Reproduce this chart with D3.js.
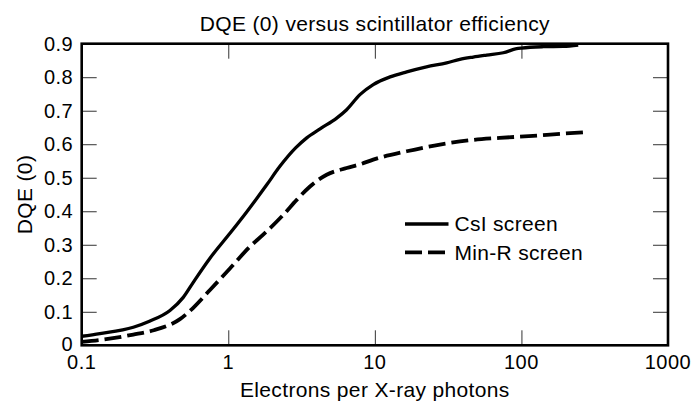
<!DOCTYPE html>
<head>
  <meta charset="utf-8">
  <script src="https://d3js.org/d3.v7.min.js"></script>
  <style>
    body { margin: 0; background: #fff; }
    svg { width: 695px; height: 401px; display: block; }
    text { font-family: Arial, "Liberation Sans", Helvetica, sans-serif; fill: #000; }
  </style>
</head>

<body>
  <svg></svg>
  <script>
    // CsI screen (solid)
    var csiX = [0.1, 0.133, 0.225, 0.29, 0.40, 0.493, 0.577, 0.75, 1.03, 1.335, 1.83, 2.25, 2.88, 3.43,
      4.23, 5.49, 6.42, 7.91, 9.75, 12.7, 16.5, 22.5, 30.9, 38, 46.9, 57.9, 75.2, 92.7, 100, 141, 193, 244];
    var csiY = [0.027, 0.035, 0.054, 0.072, 0.104, 0.143, 0.188, 0.26, 0.335, 0.398, 0.479, 0.534, 0.589, 0.619,
      0.646, 0.678, 0.703, 0.748, 0.778, 0.801, 0.816, 0.831, 0.843, 0.853, 0.860, 0.866, 0.873, 0.885, 0.887, 0.891, 0.892, 0.896];
    // Min-R screen (dashed)
    var minrX = [0.1, 0.133, 0.225, 0.31, 0.468, 0.577, 0.75, 1.03, 1.41, 1.73, 2.37, 2.93, 3.61, 4.69,
      6.42, 7.91, 9.75, 16.5, 27.8, 46.9, 71, 120, 183, 276];
    var minrY = [0.010, 0.016, 0.032, 0.045, 0.078, 0.112, 0.165, 0.23, 0.295, 0.33, 0.389, 0.434, 0.474, 0.509,
      0.529, 0.540, 0.554, 0.579, 0.599, 0.613, 0.619, 0.625, 0.631, 0.636];

    var seriesNames = ['CsI screen', 'Min-R screen'];
    var xTicks = [0.1, 1, 10, 100, 1000];
    var xTickLabels = ['0.1', '1', '10', '100', '1000'];
    var yTicks = [0, 0.1, 0.2, 0.3, 0.4, 0.5, 0.6, 0.7, 0.8, 0.9];
    var yTickLabels = ['0', '0.1', '0.2', '0.3', '0.4', '0.5', '0.6', '0.7', '0.8', '0.9'];

    var W = 695, H = 401;
    var m = {top: 43.7, right: 27, bottom: 55.7, left: 81.7};
    var iw = W - m.left - m.right, ih = H - m.top - m.bottom;

    var svg = d3.select('svg');
    var g = svg.append('g').attr('transform', 'translate(' + [m.left, m.top] + ')');

    var x = d3.scaleLog().domain([0.1, 1000]).range([0, iw]);
    var y = d3.scaleLinear().domain([0, 0.9]).range([ih, 0]);

    // inner ticks on all four sides
    var tickLen = 15;
    var innerX = xTicks.slice(1, -1), innerY = yTicks.slice(1, -1);
    function tickStyle(sel) {
      sel.selectAll('.domain').remove();
      sel.selectAll('.tick line').attr('stroke', '#333').attr('stroke-width', 1);
      sel.selectAll('.tick text').remove();
    }
    g.append('g').attr('transform', 'translate(0,' + ih + ')')
      .call(d3.axisTop(x).tickValues(innerX).tickSizeInner(tickLen).tickSizeOuter(0)).call(tickStyle);
    g.append('g')
      .call(d3.axisBottom(x).tickValues(innerX).tickSizeInner(tickLen).tickSizeOuter(0)).call(tickStyle);
    g.append('g')
      .call(d3.axisRight(y).tickValues(innerY).tickSizeInner(tickLen).tickSizeOuter(0)).call(tickStyle);
    g.append('g').attr('transform', 'translate(' + iw + ',0)')
      .call(d3.axisLeft(y).tickValues(innerY).tickSizeInner(tickLen).tickSizeOuter(0)).call(tickStyle);

    // tick labels
    g.selectAll('text.xt').data(xTicks).enter().append('text')
      .attr('class', 'xt')
      .attr('x', function(d) { return x(d); })
      .attr('y', ih + 24)
      .attr('text-anchor', 'middle')
      .style('font-size', '20px').style('letter-spacing', '0.5px')
      .text(function(d, i) { return xTickLabels[i]; });
    g.selectAll('text.yt').data(yTicks).enter().append('text')
      .attr('class', 'yt')
      .attr('x', -8.5)
      .attr('y', function(d) { return y(d) + (d === 0 ? 6 : 7); })
      .attr('text-anchor', 'end')
      .style('font-size', '20px').style('letter-spacing', '0.5px')
      .text(function(d, i) { return yTickLabels[i]; });

    // curves
    var line = d3.line()
      .x(function(d) { return x(d[0]); })
      .y(function(d) { return y(d[1]); })
      .curve(d3.curveMonotoneX);
    var csi = d3.zip(csiX, csiY), minr = d3.zip(minrX, minrY);

    g.append('path').datum(csi)
      .attr('d', line).attr('fill', 'none')
      .attr('stroke', '#000').attr('stroke-width', 3.3);
    g.append('path').datum(minr)
      .attr('d', line).attr('fill', 'none')
      .attr('stroke', '#000').attr('stroke-width', 3.8)
      .attr('stroke-dasharray', '17,6');

    // frame
    g.append('rect').attr('width', iw).attr('height', ih)
      .attr('fill', 'none').attr('stroke', '#000').attr('stroke-width', 2.6);

    // legend
    var leg = g.selectAll('g.leg').data(seriesNames).enter().append('g')
      .attr('class', 'leg')
      .attr('transform', function(d, i) { return 'translate(' + [405 - m.left, 224 - m.top + i * 28.3] + ')'; });
    leg.append('line').attr('x1', 0).attr('x2', 43.5)
      .attr('stroke', '#000')
      .attr('stroke-width', function(d, i) { return i ? 3.8 : 3.3; })
      .attr('stroke-dasharray', function(d, i) { return i ? '17,6' : null; });
    leg.append('text').attr('x', 49.5).attr('y', 7.3)
      .style('font-size', '21px').style('letter-spacing', '0.3px')
      .text(function(d) { return d; });

    // titles
    svg.append('text').attr('x', m.left + iw / 2).attr('y', 30.7)
      .attr('text-anchor', 'middle')
      .style('font-size', '21px').style('letter-spacing', '0.35px')
      .text('DQE (0) versus scintillator efficiency');
    svg.append('text').attr('x', m.left + iw / 2).attr('y', 397)
      .attr('text-anchor', 'middle')
      .style('font-size', '21px').style('letter-spacing', '0.35px')
      .text('Electrons per X-ray photons');
    svg.append('text')
      .attr('transform', 'translate(32,' + (m.top + ih / 2) + ')rotate(-90)')
      .attr('text-anchor', 'middle')
      .style('font-size', '21px').style('letter-spacing', '0.35px')
      .text('DQE (0)');
  </script>
</body>
